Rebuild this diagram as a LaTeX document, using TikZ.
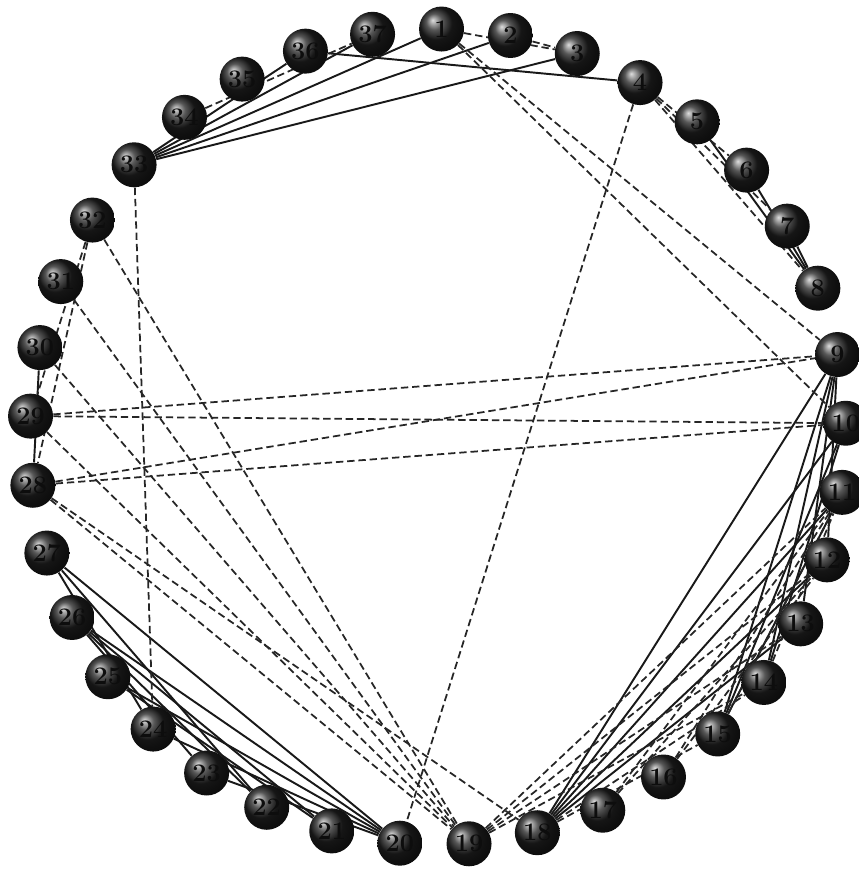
\documentclass[tikz,border=0pt]{standalone}
\usepackage{tikz}
\usetikzlibrary{backgrounds}

\begin{document}
\begin{tikzpicture}[x=0.02cm, y=0.02cm,
    ball/.style={circle, minimum size=0.9cm, inner sep=0pt, shading=ball, ball color=black!88, text=black!95, font=\Large\bfseries},
    tie/.style={black!90, line width=1.1pt},
    weak/.style={black!85, line width=1pt, dash pattern=on 4.2pt off 2.2pt}]
    % 画布范围
    \useasboundingbox (-438,-439) rectangle (421,437);

    % 37 个节点，均匀分布在圆周上
    \foreach \i in {1,...,37}
        \node[ball] (n\i) at ({89.5-(\i-1)*360/37}:408) {\i};

    \begin{scope}[on background layer]
    % 实线连接
    \foreach \a/\b in {33/36, 33/37, 33/1, 33/2, 33/3, 36/4,
                       5/8, 6/8, 7/8,
                       9/18, 10/18, 11/18, 12/18, 13/18,
                       9/12, 9/13, 9/14, 9/15, 10/14, 10/15, 11/15,
                       28/30,
                       27/20, 27/22, 27/24, 26/20, 26/21, 26/22, 26/23,
                       25/20, 25/21, 24/20, 23/20}
        \draw[tie] (n\a) -- (n\b);

    % 虚线连接
    \foreach \a/\b in {1/3, 2/3, 34/37, 1/9, 1/10, 4/20, 4/6, 4/7, 4/8,
                       28/9, 28/10, 29/9, 29/10,
                       32/29, 32/28, 32/19, 31/19, 30/19, 29/19, 28/19, 28/18,
                       33/24,
                       19/11, 19/12, 19/13, 19/14, 18/14, 18/15,
                       17/11, 17/12, 16/11, 16/12, 15/11, 14/11}
        \draw[weak] (n\a) -- (n\b);
    \end{scope}
\end{tikzpicture}
\end{document}
